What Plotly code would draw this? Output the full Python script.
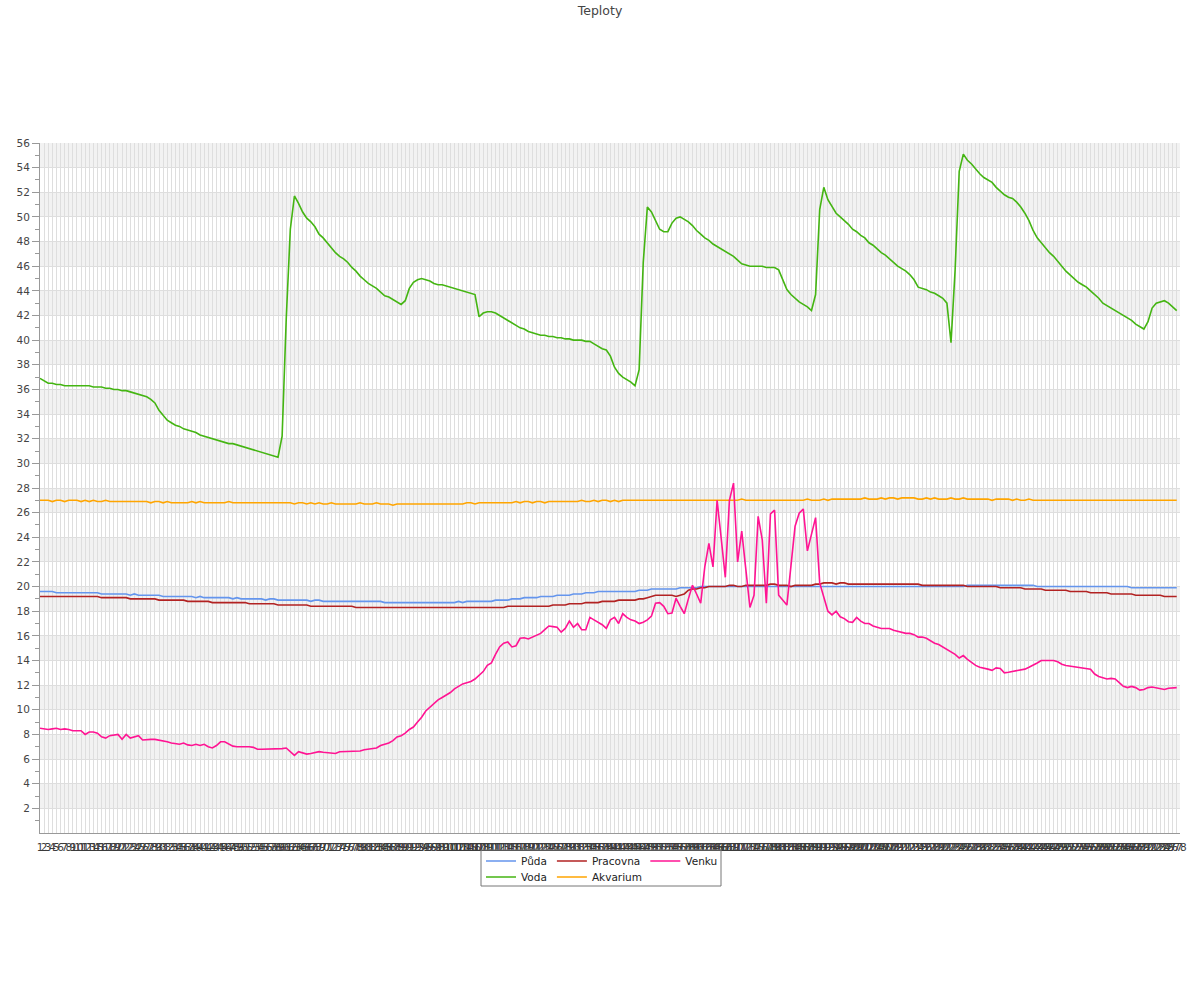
import plotly.graph_objects as go

labels = [str(i) for i in range(1, 279)]

puda = [
19.6,19.6,19.6,19.6,19.5,19.5,19.5,19.5,19.5,19.5,
19.5,19.5,19.5,19.5,19.5,19.4,19.4,19.4,19.4,19.4,
19.4,19.4,19.3,19.4,19.3,19.3,19.3,19.3,19.3,19.3,
19.2,19.2,19.2,19.2,19.2,19.2,19.2,19.2,19.1,19.2,
19.1,19.1,19.1,19.1,19.1,19.1,19.1,19.0,19.1,19.0,
19.0,19.0,19.0,19.0,19.0,18.9,19.0,19.0,18.9,18.9,
18.9,18.9,18.9,18.9,18.9,18.9,18.8,18.9,18.9,18.8,
18.8,18.8,18.8,18.8,18.8,18.8,18.8,18.8,18.8,18.8,
18.8,18.8,18.8,18.8,18.7,18.7,18.7,18.7,18.7,18.7,
18.7,18.7,18.7,18.7,18.7,18.7,18.7,18.7,18.7,18.7,
18.7,18.7,18.8,18.7,18.8,18.8,18.8,18.8,18.8,18.8,
18.8,18.9,18.9,18.9,18.9,19.0,19.0,19.0,19.1,19.1,
19.1,19.1,19.2,19.2,19.2,19.2,19.3,19.3,19.3,19.3,
19.4,19.4,19.4,19.5,19.5,19.5,19.6,19.6,19.6,19.6,
19.6,19.6,19.6,19.6,19.6,19.6,19.7,19.7,19.7,19.8,
19.8,19.8,19.8,19.8,19.8,19.8,19.9,19.9,19.9,19.9,
19.9,20.0,20.0,20.0,20.0,20.0,20.0,20.0,20.0,20.0,
20.0,20.0,20.0,20.0,20.0,20.0,20.0,20.0,20.0,20.0,
20.0,20.0,20.0,20.0,20.0,20.0,20.0,20.0,20.0,20.0,
20.0,20.0,20.0,20.0,20.0,20.0,20.0,20.0,20.0,20.0,
20.0,20.0,20.0,20.0,20.0,20.0,20.0,20.0,20.0,20.0,
20.0,20.0,20.0,20.0,20.0,20.0,20.0,20.0,20.0,20.0,
20.0,20.0,20.0,20.0,20.0,20.0,20.1,20.1,20.1,20.1,
20.1,20.1,20.1,20.1,20.1,20.1,20.1,20.1,20.1,20.1,
20.1,20.1,20.1,20.0,20.0,20.0,20.0,20.0,20.0,20.0,
20.0,20.0,20.0,20.0,20.0,20.0,20.0,20.0,20.0,20.0,
20.0,20.0,20.0,20.0,20.0,20.0,19.9,19.9,19.9,19.9,
19.9,19.9,19.9,19.9,19.9,19.9,19.9,19.9,
]

voda = [
36.9,36.7,36.5,36.5,36.4,36.4,36.3,36.3,36.3,36.3,
36.3,36.3,36.3,36.2,36.2,36.2,36.1,36.1,36.0,36.0,
35.9,35.9,35.8,35.7,35.6,35.5,35.4,35.2,34.9,34.3,
33.9,33.5,33.3,33.1,33.0,32.8,32.7,32.6,32.5,32.3,
32.2,32.1,32.0,31.9,31.8,31.7,31.6,31.6,31.5,31.4,
31.3,31.2,31.1,31.0,30.9,30.8,30.7,30.6,
30.5,32.2,41.7,49.0,51.7,
51.1,50.4,49.9,49.6,49.2,48.6,48.3,
47.9,47.5,47.1,46.8,46.6,46.3,45.9,45.6,45.2,44.9,
44.6,44.4,44.2,43.9,43.6,43.5,43.3,43.1,42.9,43.2,
44.2,44.7,44.9,45.0,44.9,44.8,44.6,44.5,44.5,44.4,
44.3,44.2,44.1,44.0,43.9,43.8,43.7,41.9,42.2,42.3,
42.3,42.2,42.0,41.8,41.6,41.4,41.2,41.0,40.9,40.7,
40.6,40.5,40.4,40.4,40.3,40.3,40.2,40.2,40.1,40.1,
40.0,40.0,40.0,39.9,39.9,39.7,39.5,39.3,39.2,38.7,
37.8,37.3,37.0,36.8,36.6,36.3,37.6,46.3,50.8,50.4,
49.7,49.0,48.8,48.8,49.5,49.9,50.0,49.8,49.6,49.3,
48.9,48.6,48.3,48.1,47.8,47.6,47.4,47.2,47.0,46.8,
46.5,46.2,46.1,46.0,46.0,46.0,46.0,45.9,45.9,45.9,
45.7,44.9,44.1,43.7,43.4,43.1,42.9,42.7,42.4,43.7,
50.6,52.4,51.4,50.8,50.3,50.0,49.7,49.4,49.0,48.8,
48.5,48.3,47.9,47.7,47.4,47.1,46.9,46.6,46.3,46.0,
45.8,45.6,45.3,44.9,44.3,44.2,44.1,43.9,43.8,43.6,
43.4,43.0,39.8,45.7,53.7,55.1,54.6,54.3,53.9,53.5,
53.2,53.0,52.8,52.4,52.1,51.8,51.6,51.5,51.2,50.8,
50.3,49.7,48.9,48.3,47.9,47.5,47.1,46.8,46.4,46.0,
45.6,45.3,45.0,44.7,44.5,44.3,44.0,43.7,43.4,43.0,
42.8,42.6,42.4,42.2,42.0,41.8,41.6,41.3,41.1,40.9,
41.5,42.6,43.0,43.1,43.2,43.0,42.7,42.4,
]

pracovna = [
19.2,19.2,19.2,19.2,19.2,19.2,19.2,19.2,19.2,19.2,
19.2,19.2,19.2,19.2,19.2,19.1,19.1,19.1,19.1,19.1,
19.1,19.1,19.0,19.0,19.0,19.0,19.0,19.0,19.0,18.9,
18.9,18.9,18.9,18.9,18.9,18.9,18.8,18.8,18.8,18.8,
18.8,18.8,18.7,18.7,18.7,18.7,18.7,18.7,18.7,18.7,
18.7,18.6,18.6,18.6,18.6,18.6,18.6,18.6,18.5,18.5,
18.5,18.5,18.5,18.5,18.5,18.5,18.4,18.4,18.4,18.4,
18.4,18.4,18.4,18.4,18.4,18.4,18.4,18.3,18.3,18.3,
18.3,18.3,18.3,18.3,18.3,18.3,18.3,18.3,18.3,18.3,
18.3,18.3,18.3,18.3,18.3,18.3,18.3,18.3,18.3,18.3,
18.3,18.3,18.3,18.3,18.3,18.3,18.3,18.3,18.3,18.3,
18.3,18.3,18.3,18.3,18.4,18.4,18.4,18.4,18.4,18.4,
18.4,18.4,18.4,18.4,18.4,18.5,18.5,18.5,18.5,18.6,
18.6,18.6,18.6,18.7,18.7,18.7,18.7,18.8,18.8,18.8,
18.8,18.9,18.9,18.9,18.9,18.9,19.0,19.0,19.1,19.2,
19.3,19.3,19.3,19.3,19.3,19.2,19.3,19.4,19.7,19.8,
19.8,19.9,19.9,20.0,20.0,20.0,20.0,20.0,20.1,20.1,
20.0,20.0,20.1,20.1,20.1,20.1,20.1,20.1,20.2,20.2,
20.1,20.1,20.1,20.0,20.1,20.1,20.1,20.1,20.1,20.2,
20.2,20.3,20.3,20.3,20.2,20.3,20.3,20.2,20.2,20.2,
20.2,20.2,20.2,20.2,20.2,20.2,20.2,20.2,20.2,20.2,
20.2,20.2,20.2,20.2,20.2,20.1,20.1,20.1,20.1,20.1,
20.1,20.1,20.1,20.1,20.1,20.1,20.0,20.0,20.0,20.0,
20.0,20.0,20.0,20.0,19.9,19.9,19.9,19.9,19.9,19.9,
19.8,19.8,19.8,19.8,19.8,19.7,19.7,19.7,19.7,19.7,
19.7,19.6,19.6,19.6,19.6,19.6,19.5,19.5,19.5,19.5,
19.5,19.4,19.4,19.4,19.4,19.4,19.4,19.3,19.3,19.3,
19.3,19.3,19.3,19.3,19.2,19.2,19.2,19.2,
]

akvarium = [
27.0,27.0,27.0,26.9,27.0,27.0,26.9,27.0,27.0,27.0,
26.9,27.0,26.9,27.0,26.9,26.9,27.0,26.9,26.9,26.9,
26.9,26.9,26.9,26.9,26.9,26.9,26.9,26.8,26.9,26.9,
26.8,26.9,26.8,26.8,26.8,26.8,26.8,26.9,26.8,26.9,
26.8,26.8,26.8,26.8,26.8,26.8,26.9,26.8,26.8,26.8,
26.8,26.8,26.8,26.8,26.8,26.8,26.8,26.8,26.8,26.8,
26.8,26.8,26.7,26.8,26.8,26.7,26.8,26.7,26.8,26.7,
26.7,26.8,26.7,26.7,26.7,26.7,26.7,26.7,26.8,26.7,
26.7,26.7,26.8,26.7,26.7,26.7,26.6,26.7,26.7,26.7,
26.7,26.7,26.7,26.7,26.7,26.7,26.7,26.7,26.7,26.7,
26.7,26.7,26.7,26.7,26.8,26.8,26.7,26.8,26.8,26.8,
26.8,26.8,26.8,26.8,26.8,26.8,26.9,26.8,26.9,26.9,
26.8,26.9,26.9,26.8,26.9,26.9,26.9,26.9,26.9,26.9,
26.9,26.9,27.0,26.9,26.9,27.0,26.9,27.0,27.0,26.9,
27.0,26.9,27.0,27.0,27.0,27.0,27.0,27.0,27.0,27.0,
27.0,27.0,27.0,27.0,27.0,27.0,27.0,27.0,27.0,27.0,
27.0,27.0,27.0,27.0,27.0,27.0,27.0,27.0,27.0,27.0,
27.0,27.1,27.0,27.0,27.0,27.0,27.0,27.0,27.0,27.0,
27.0,27.0,27.0,27.0,27.0,27.0,27.0,27.1,27.0,27.0,
27.0,27.1,27.0,27.1,27.1,27.1,27.1,27.1,27.1,27.1,
27.1,27.2,27.1,27.1,27.1,27.2,27.1,27.2,27.2,27.1,
27.2,27.2,27.2,27.2,27.1,27.1,27.2,27.1,27.2,27.1,
27.1,27.1,27.2,27.1,27.1,27.2,27.1,27.1,27.1,27.1,
27.1,27.1,27.0,27.1,27.1,27.1,27.1,27.0,27.1,27.0,
27.0,27.1,27.0,27.0,27.0,27.0,27.0,27.0,27.0,27.0,
27.0,27.0,27.0,27.0,27.0,27.0,27.0,27.0,27.0,27.0,
27.0,27.0,27.0,27.0,27.0,27.0,27.0,27.0,27.0,27.0,
27.0,27.0,27.0,27.0,27.0,27.0,27.0,27.0,
]

venku = [
8.5,8.45,8.4,8.45,8.5,8.4,8.45,8.4,8.3,8.3,
8.3,8.0,8.2,8.2,8.1,7.8,7.7,7.9,7.95,8.0,
7.6,8.0,7.7,7.8,7.9,7.55,7.6,7.6,7.6,7.55,
7.5,7.4,7.3,7.25,7.2,7.3,7.15,7.1,7.2,7.1,
7.2,7.0,6.9,7.1,7.4,7.4,7.2,7.05,7.0,7.0,
7.05,7.0,6.95,6.8,6.8,6.8,6.8,6.8,6.8,6.85,
6.9,6.6,6.3,6.6,6.5,6.4,6.45,6.5,6.6,6.55,
6.5,6.5,6.45,6.6,6.6,6.6,6.6,6.6,6.65,6.75,
6.8,6.8,6.9,7.1,7.2,7.3,7.5,7.8,7.9,8.1,
8.4,8.6,9.0,9.4,9.9,10.2,10.5,10.8,11.0,11.2,
11.4,11.7,11.9,12.1,12.2,12.3,12.5,12.8,13.1,13.6,
13.8,14.5,15.1,15.4,15.5,15.1,15.2,15.8,15.85,15.75,
15.9,16.0,16.2,16.5,16.8,16.75,16.7,16.3,16.6,17.2,
16.7,17.0,16.5,16.5,17.5,17.3,17.1,16.9,16.6,17.3,
17.5,17.0,17.8,17.5,17.3,17.2,17.0,17.1,17.3,17.6,
18.65,18.7,18.4,17.8,17.85,19.05,18.4,17.8,19.0,20.1,
19.4,18.65,21.6,23.5,21.6,27.0,23.9,20.75,27.0,28.4,
22.0,24.5,21.4,18.3,19.3,25.7,23.8,18.65,25.9,26.2,
19.3,18.9,18.5,21.7,24.9,25.95,26.3,22.9,24.2,25.6,
20.3,19.1,18.0,17.7,18.0,17.55,17.4,17.15,17.1,17.5,
17.2,17.0,17.0,16.8,16.7,16.6,16.6,16.6,16.45,16.35,
16.3,16.2,16.2,16.1,15.9,15.9,15.8,15.6,15.4,15.3,
15.1,14.95,14.75,14.5,14.2,14.4,14.1,13.85,13.6,13.45,
13.4,13.3,13.2,13.4,13.35,13.0,13.05,13.1,13.15,13.25,
13.3,13.45,13.6,13.8,14.0,14.0,14.0,14.0,13.9,13.7,
13.6,13.55,13.5,13.5,13.45,13.4,13.3,12.9,12.7,12.6,
12.5,12.55,12.5,12.2,11.9,11.8,11.9,11.8,11.6,11.65,
11.8,11.85,11.8,11.7,11.65,11.75,11.8,11.8,
]

series_names = ["Půda", "Voda", "Pracovna", "Akvarium", "Venku"]
series_values = [puda, voda, pracovna, akvarium, venku]
series_colors = ["#6495ed", "#44b512", "#b22222", "#ffa500", "#ff1493"]
series_legend = ["legend", "legend2", "legend", "legend2", "legend"]

for v in series_values:
    assert len(v) == len(labels), len(v)

y_ticks = list(range(2, 57, 2))
x_idx = list(range(len(labels)))

fig = go.Figure()
for name, vals, col, lg in zip(series_names, series_values, series_colors, series_legend):
    fig.add_trace(go.Scatter(
        x=x_idx, y=vals, name=name, mode="lines",
        line=dict(color=col, width=1.6), legend=lg,
    ))

# alternating horizontal bands
shapes = []
for lo in range(2, 56, 4):
    shapes.append(dict(type="rect", xref="x domain", yref="y", x0=0, x1=1,
                       y0=lo, y1=lo + 2, fillcolor="#f2f2f2",
                       line=dict(width=0), layer="below"))

# legend frame
W, H = 1200, 1000
ml, mr, mt, mb = 40, 20, 143, 167
pw, ph = W - ml - mr, H - mt - mb
def px(x):
    return (x - ml) / pw
def py(y):
    return (H - mb - y) / ph
shapes.append(dict(type="rect", xref="paper", yref="paper",
                   x0=px(481), x1=px(721), y0=py(886), y1=py(850),
                   line=dict(color="#777777", width=1), fillcolor="rgba(0,0,0,0)",
                   layer="above"))

fig.update_layout(
    width=W, height=H,
    margin=dict(l=ml, r=mr, t=mt, b=mb),
    paper_bgcolor="white", plot_bgcolor="white",
    font=dict(family="DejaVu Sans", size=10.5, color="#444444"),
    title=dict(text="Teploty", x=0.5, xref="container", y=1 - 11 / H,
               yref="container", yanchor="middle", xanchor="center",
               font=dict(family="DejaVu Sans", size=12.5, color="#444444")),
    showlegend=True,
    legend=dict(orientation="h", x=px(481), xanchor="left", y=py(846.5),
                yanchor="top", bgcolor="rgba(0,0,0,0)", borderwidth=0,
                font=dict(size=10.5, color="#222222"), itemclick=False),
    legend2=dict(orientation="h", x=px(481), xanchor="left", y=py(862.5),
                 yanchor="top", bgcolor="rgba(0,0,0,0)", borderwidth=0,
                 font=dict(size=10.5, color="#222222"), itemclick=False),
    shapes=shapes,
)

fig.update_xaxes(
    range=[0, len(labels) - 1 + 0.8],
    tickmode="array", tickvals=x_idx, ticktext=labels, tickangle=0,
    showgrid=True, gridcolor="#dedede", gridwidth=1,
    showline=True, linecolor="#999999", linewidth=1,
    ticks="", zeroline=False, automargin=False, ticklabelstandoff=4,
    tickfont=dict(size=10.5, color="#3a3a3a"),
)
fig.update_yaxes(
    range=[0, 56],
    tickmode="array", tickvals=y_ticks, ticktext=[str(t) for t in y_ticks],
    showgrid=True, gridcolor="#dedede", gridwidth=1,
    showline=True, linecolor="#999999", linewidth=1,
    ticks="outside", ticklen=7, tickcolor="#999999",
    minor=dict(tickmode="linear", tick0=1, dtick=2, ticks="outside", ticklen=4,
               tickcolor="#999999", showgrid=False),
    zeroline=False, automargin=False,
    tickfont=dict(size=10.5, color="#444444"),
)

fig.write_html("out.html", config={"displayModeBar": False},
               post_script="document.body.style.margin='0';")
